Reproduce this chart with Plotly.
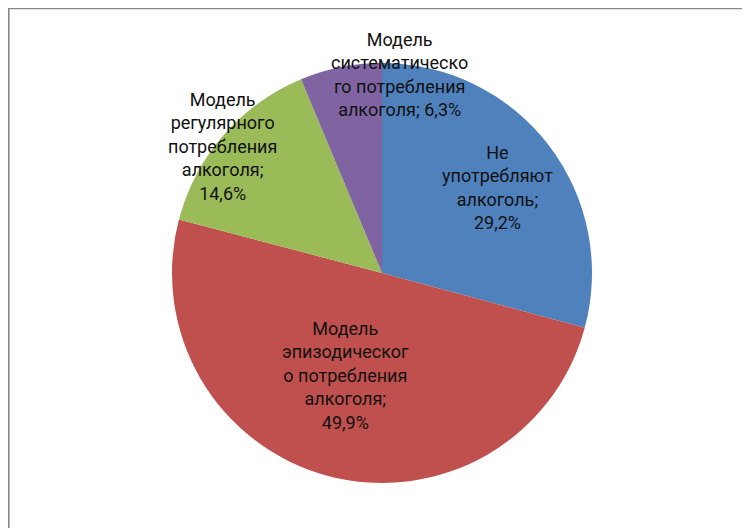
import plotly.graph_objects as go

# Data
categories = [
    "Не употребляют алкоголь",
    "Модель эпизодического потребления алкоголя",
    "Модель регулярного потребления алкоголя",
    "Модель систематического потребления алкоголя",
]
values = [29.2, 49.9, 14.6, 6.3]
label_texts = [
    "Не<br>употребляют<br>алкоголь;<br>29,2%",
    "Модель<br>эпизодическог<br>о потребления<br>алкоголя;<br>49,9%",
    "Модель<br>регулярного<br>потребления<br>алкоголя;<br>14,6%",
    "Модель<br>систематическо<br>го потребления<br>алкоголя; 6,3%",
]
colors = ["#4F81BD", "#C0504D", "#9BBB59", "#8064A2"]

W, H = 750, 528
OFF = 8  # page body margin offset of the plot div

def px_x(sx):
    return (sx - OFF) / W

def px_y(sy):
    return 1 - (sy - OFF) / H

# label centres in screen pixels (layout)
label_px = [(497, 188), (345, 375), (222, 146), (399, 74)]

cx, cy, r = 382, 273, 210

fig = go.Figure(
    go.Pie(
        labels=categories,
        values=values,
        sort=False,
        direction="clockwise",
        rotation=0,
        marker=dict(colors=colors, line=dict(width=0)),
        textinfo="none",
        hoverinfo="none",
        showlegend=False,
        domain=dict(
            x=[px_x(cx - r), px_x(cx + r)],
            y=[px_y(cy + r), px_y(cy - r)],
        ),
    )
)

annotations = []
for txt, (sx, sy) in zip(label_texts, label_px):
    annotations.append(
        dict(
            text=txt,
            x=px_x(sx),
            y=px_y(sy),
            xref="paper",
            yref="paper",
            xanchor="center",
            yanchor="middle",
            showarrow=False,
            align="center",
            font=dict(family="Roboto, Liberation Sans, sans-serif", size=18, color="#111111"),
        )
    )

fig.update_layout(
    width=W,
    height=H,
    margin=dict(l=0, r=0, t=0, b=0),
    paper_bgcolor="white",
    plot_bgcolor="white",
    annotations=annotations,
    shapes=[
        dict(
            type="rect",
            xref="paper",
            yref="paper",
            x0=0.8 / W,
            x1=1.02,
            y0=-0.02,
            y1=px_y(8.5),
            line=dict(color="#888888", width=1.6),
            fillcolor="rgba(0,0,0,0)",
        )
    ],
)

fig.write_html("out.html")
